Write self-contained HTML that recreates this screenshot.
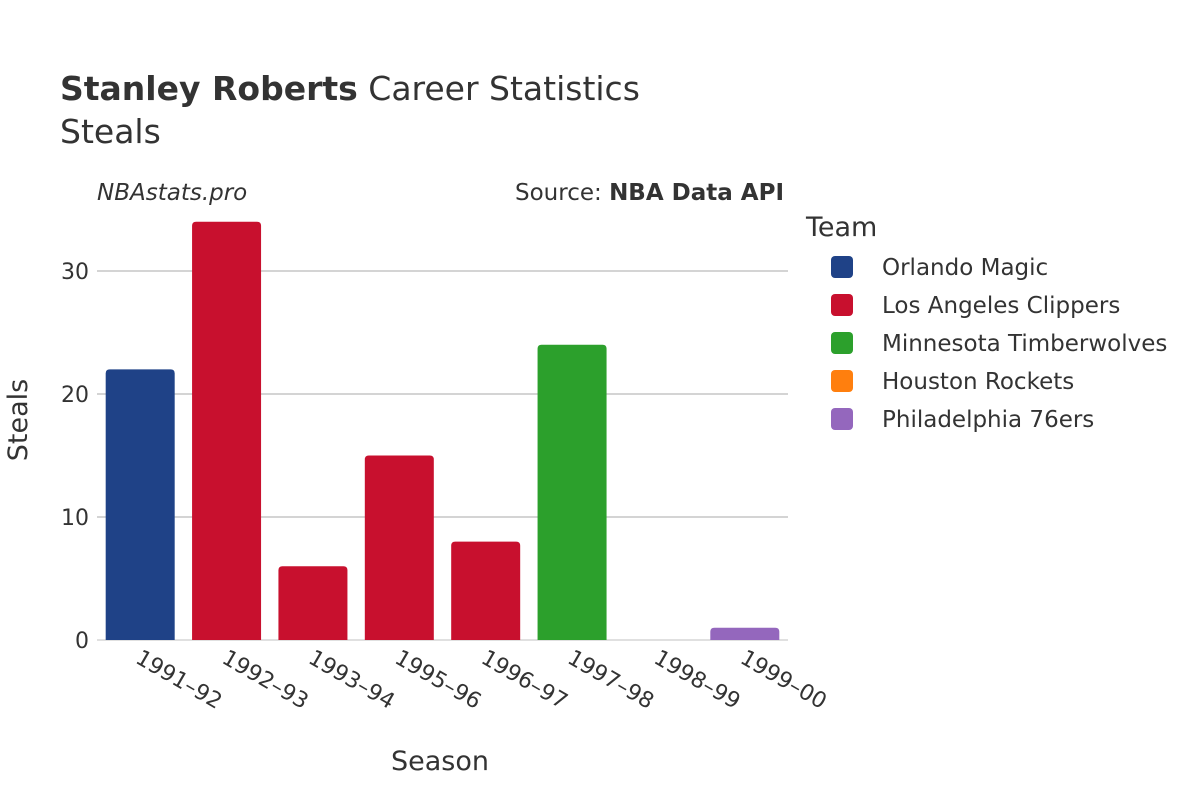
<!DOCTYPE html>
<html><head><meta charset="utf-8"><style>
body{margin:0;background:#fff;}
svg text{font-family:"DejaVu Sans","Liberation Sans",sans-serif;fill:#333;}
</style></head><body>
<svg id="chart" width="1200" height="800" viewBox="0 0 1200 800">
<text x="60" y="100" font-size="33"><tspan font-weight="bold">Stanley Roberts</tspan> Career Statistics</text>
<text x="60" y="143" font-size="33">Steals</text>
<text x="97" y="200" font-size="23" font-style="italic">NBAstats.pro</text>
<text x="784" y="200" font-size="23" text-anchor="end">Source: <tspan font-weight="bold">NBA Data API</tspan></text>
<g id="grid"></g>
<g id="bars"></g>
<g id="xticks"></g>
<g id="yticks"></g>
<text x="440" y="770" font-size="27" text-anchor="middle">Season</text>
<text transform="translate(27,420) rotate(-90)" font-size="27" text-anchor="middle">Steals</text>
<g id="legend"></g>
</svg>
<script>
const seasons=["1991–92","1992–93","1993–94","1995–96","1996–97","1997–98","1998–99","1999–00"];
const steals=[22,34,6,15,8,24,0,1];
const teams=["Orlando Magic","Los Angeles Clippers","Los Angeles Clippers","Los Angeles Clippers","Los Angeles Clippers","Minnesota Timberwolves","Houston Rockets","Philadelphia 76ers"];
const yTicks=[0,10,20,30];
const legendTeams=["Orlando Magic","Los Angeles Clippers","Minnesota Timberwolves","Houston Rockets","Philadelphia 76ers"];
const colors={"Orlando Magic":"#1f4287","Los Angeles Clippers":"#c8102e","Minnesota Timberwolves":"#2ca02c","Houston Rockets":"#ff7f0e","Philadelphia 76ers":"#9467bd"};
const NS="http://www.w3.org/2000/svg";
const x0=97,x1=788,y0=640,ppu=12.3;
const y=v=>y0-v*ppu;
const band=(x1-x0)/seasons.length;
function mk(tag,attrs,parent){const e=document.createElementNS(NS,tag);for(const k in attrs)e.setAttribute(k,attrs[k]);parent.appendChild(e);return e;}
const grid=document.getElementById('grid'),yt=document.getElementById('yticks');
yTicks.forEach(t=>{
  const l=mk('line',{x1:x0,x2:x1,y1:y(t),y2:y(t),stroke:t===0?'#e0e0e0':'#aaa','stroke-width':t===0?2:1},grid);
  
  
  const tx=mk('text',{x:x0-8,y:y(t)+8,'font-size':22,'text-anchor':'end'},yt);
  tx.textContent=t;
  
  
});
const bars=document.getElementById('bars'),xt=document.getElementById('xticks');
seasons.forEach((s,i)=>{
  const cx=x0+band*(i+0.5),w=69,h=steals[i]*ppu,top=y(steals[i]),r=Math.min(4,h);
  const p=mk('path',{d:`M${cx-w/2},${y0} L${cx-w/2},${top+r} Q${cx-w/2},${top} ${cx-w/2+r},${top} L${cx+w/2-r},${top} Q${cx+w/2},${top} ${cx+w/2},${top+r} L${cx+w/2},${y0} Z`,fill:colors[teams[i]]},bars);
  
  
  const tx=mk('text',{transform:`translate(${cx-6},${y0+22}) rotate(30)`,'font-size':22},xt);
  tx.textContent=s;
  
  
});
const lg=document.getElementById('legend');
const lt=mk('text',{x:806,y:236,'font-size':27},lg);
lt.textContent="Team";


legendTeams.forEach((t,i)=>{
  const g=mk('g',{},lg);
  
  
  const yy=267+i*38;
  mk('rect',{x:831,y:yy-11,width:22,height:22,rx:4,fill:colors[t]},g);
  const tx=mk('text',{x:882,y:yy+8,'font-size':23},g);
  tx.textContent=t;
});
</script>
</body></html>
